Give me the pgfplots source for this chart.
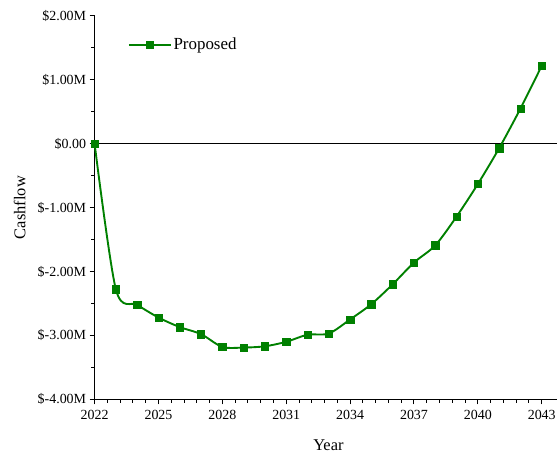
\documentclass[border=0pt]{standalone}
\usepackage{pgfplots}
\pgfplotsset{compat=1.18}
\usepackage{fontspec}
\setmainfont{Liberation Serif}
\definecolor{cfgreen}{RGB}{0,128,0}
\begin{document}
\begin{tikzpicture}
\begin{axis}[
  scale only axis,
  width=464pt, height=385pt,
  xmin=2022, xmax=2043.7,
  ymin=-4, ymax=2,
  axis lines*=left,
  axis line style={line width=1.1pt, black},
  xtick={2022,2025,2028,2031,2034,2037,2040,2043},
  xticklabels={2022,2025,2028,2031,2034,2037,2040,2043},
  minor x tick num=4,
  ytick={-4,-3,-2,-1,0,1,2},
  yticklabels={\$-4.00M,\$-3.00M,\$-2.00M,\$-1.00M,\$0.00,\$1.00M,\$2.00M},
  minor y tick num=1,
  tick align=outside,
  major tick length=5pt,
  minor tick length=3.5pt,
  tick style={black, line width=1pt},
  ticklabel style={font=\fontsize{14}{16}\selectfont},
  xticklabel style={yshift=-2pt},
  extra y ticks={0},
  extra y tick labels={},
  extra y tick style={grid=major, major grid style={black, line width=1pt}, tick style={draw=none}},
  xlabel={Year},
  ylabel={Cashflow},
  label style={font=\fontsize{16.5}{18}\selectfont},
  xlabel style={at={(axis description cs:0.506,-0.12)}, anchor=center},
  ylabel style={at={(axis description cs:-0.162,0.5)}, anchor=center},
  legend style={draw=none, fill=none, at={(axis description cs:0.065,0.925)}, anchor=west, font=\fontsize{17}{19}\selectfont},
  legend cell align=left,
  legend image code/.code={
    \draw[#1, mark repeat=2, mark phase=2] plot coordinates {(0pt,0pt) (21pt,0pt) (42pt,0pt)};
  },
  clip=false,
]
\addplot[cfgreen, line width=1.9pt, smooth, tension=0.5, mark=square*, mark size=3.7pt, mark options={fill=cfgreen, draw=cfgreen, line width=0.5pt}]
coordinates {
(2022,0) (2023,-2.28) (2024,-2.52) (2025,-2.72) (2026,-2.87) (2027,-2.98)
(2028,-3.18) (2029,-3.19) (2030,-3.17) (2031,-3.10) (2032,-2.99) (2033,-2.97)
(2034,-2.75) (2035,-2.51) (2036,-2.20) (2037,-1.86) (2038,-1.59) (2039,-1.14)
(2040,-0.63) (2041,-0.07) (2042,0.55) (2043,1.22)
};
\addlegendentry{Proposed}
\end{axis}
\path[use as bounding box] (-95pt,-53pt) rectangle (464pt,401pt);
\end{tikzpicture}
\end{document}
